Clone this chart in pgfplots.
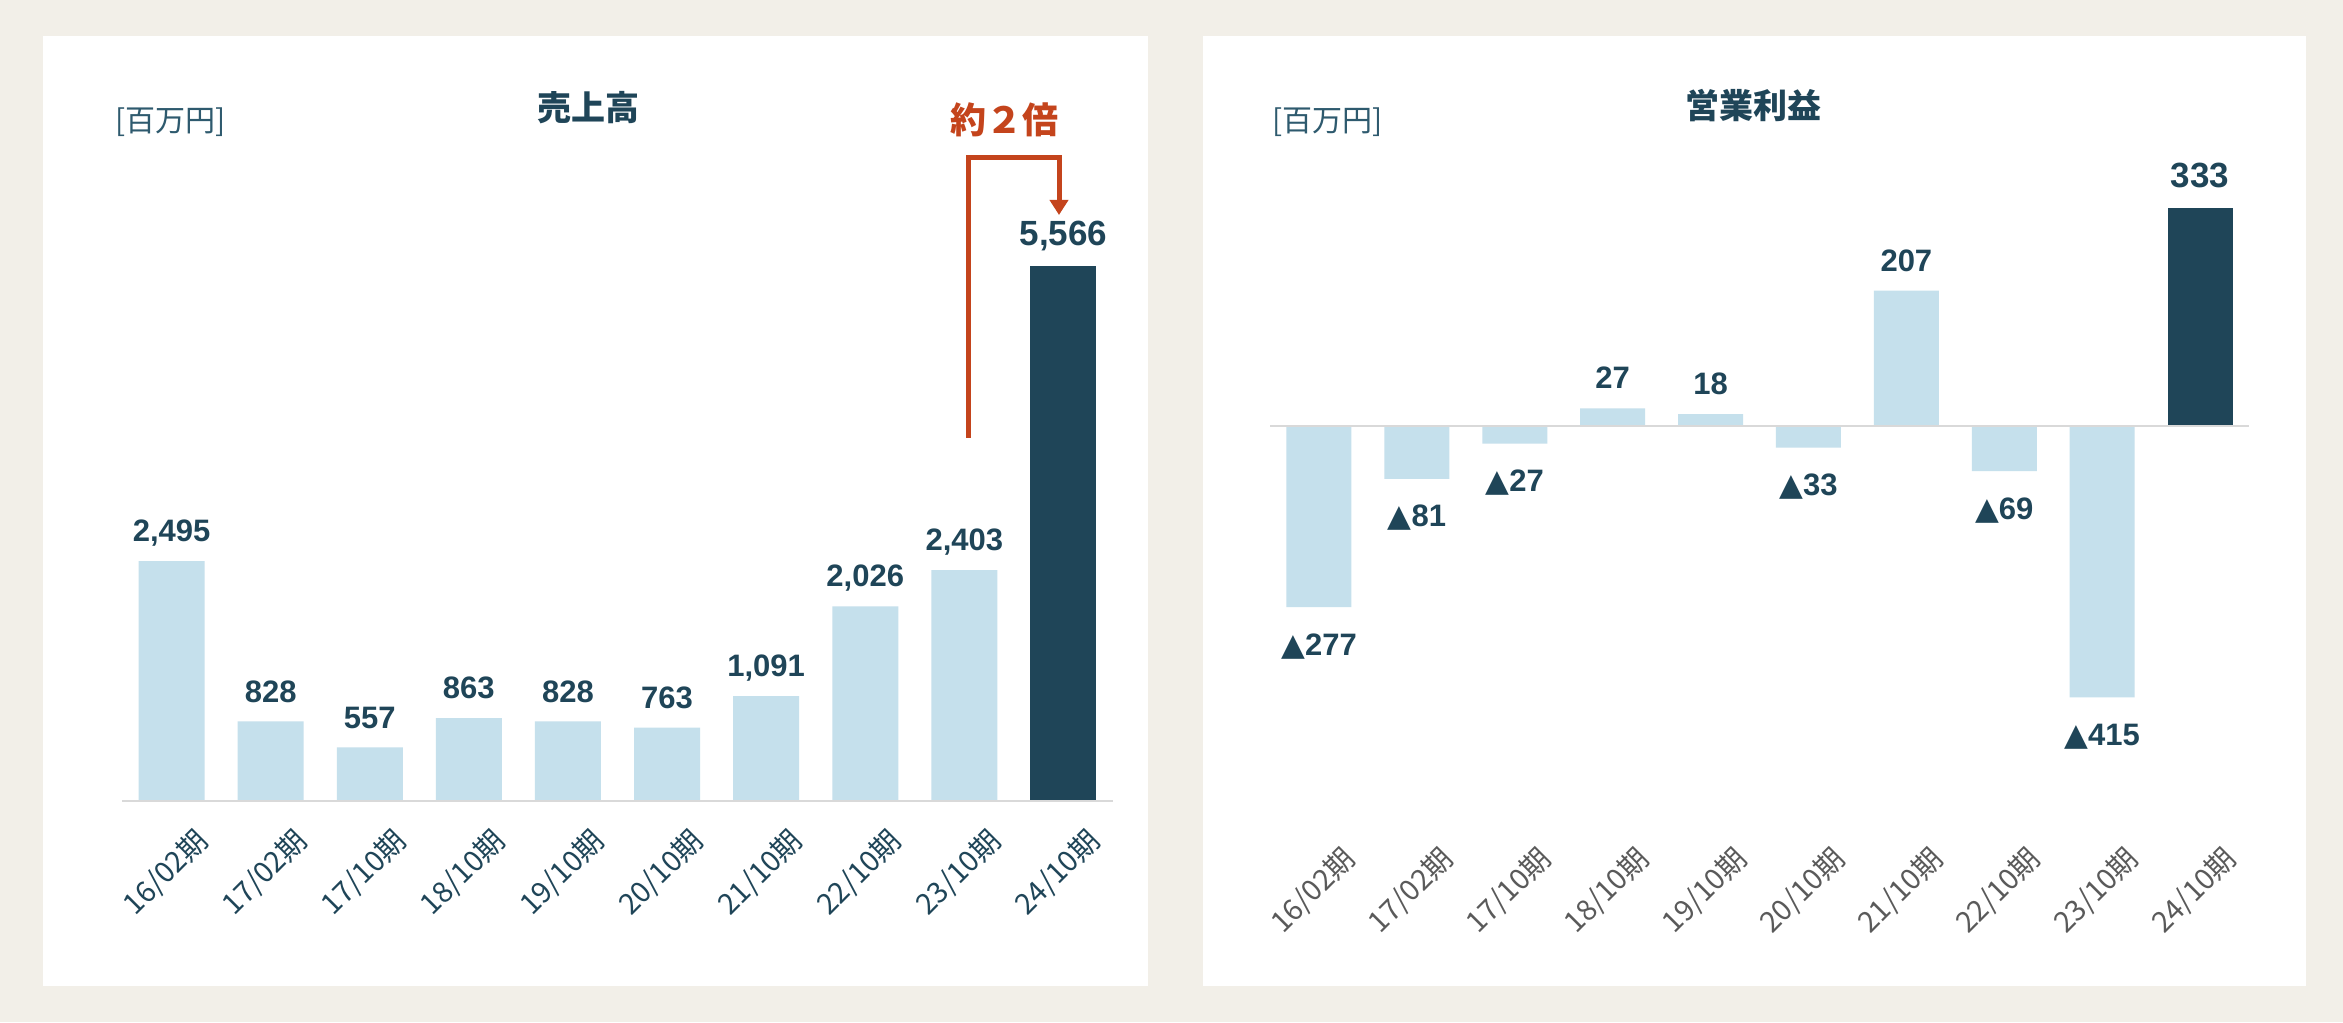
\documentclass[border=0pt]{standalone}
\usepackage{fontspec}
\usepackage{pgfplots}
\pgfplotsset{compat=1.18}
\usetikzlibrary{arrows.meta}
\setmainfont{Noto Sans CJK JP}
\newfontfamily\numfont{Liberation Sans}
\newfontfamily\dv{DejaVu Sans}
\definecolor{bg}{HTML}{F2EFE8}
\definecolor{navy}{HTML}{1F4558}
\definecolor{lightb}{HTML}{C5E0EC}
\definecolor{orng}{HTML}{C4441C}
\definecolor{tickgray}{HTML}{5A5A5A}
\definecolor{axgray}{HTML}{D9D9D9}
\definecolor{unitc}{HTML}{2E5A6E}
\begin{document}
\begin{tikzpicture}
\path[use as bounding box, fill=bg] (0,0) rectangle (1171.5pt,511pt);
\fill[white] (21.5pt,18pt) rectangle (574pt,493pt);
\fill[white] (601.5pt,18pt) rectangle (1153pt,493pt);
% ---------------- left: sales
\begin{axis}[at={(61pt,110.5pt)}, anchor=south west, scale only axis,
  width=495.5pt, height=288.35pt, xmin=-0.5, xmax=9.5, ymin=0, ymax=6000,
  ybar, axis line style={draw=none}, tick style={draw=none}, ytick=\empty,
  xtick={0,...,9},
  xticklabels={16/02期,17/02期,17/10期,18/10期,19/10期,20/10期,21/10期,22/10期,23/10期,24/10期},
  xticklabel style={rotate=45, anchor=north east, inner sep=0pt,
    font=\fontsize{14.5pt}{17pt}\selectfont, text=navy, xshift=2pt, yshift=-13pt},
  clip=false,
  /pgf/number format/1000 sep={,}, /pgf/number format/assume math mode=true]
\addplot[ybar, bar width=33pt, bar shift=0pt, fill=lightb, draw=none,
  nodes near coords,
  every node near coord/.append style={anchor=south, inner sep=0pt, text depth=0pt, yshift=9.5pt,
    font=\numfont\bfseries\fontsize{15.5pt}{18pt}\selectfont, text=navy}]
  coordinates {(0,2495) (1,828) (2,557) (3,863) (4,828) (5,763) (6,1091) (7,2026) (8,2403)};
\addplot[ybar, bar width=33pt, bar shift=0pt, fill=navy, draw=none,
  nodes near coords,
  every node near coord/.append style={anchor=south, inner sep=0pt, text depth=0pt, yshift=10pt,
    font=\numfont\bfseries\fontsize{17.5pt}{20pt}\selectfont, text=navy}]
  coordinates {(9,5566)};
\draw[axgray, line width=1pt] (axis cs:-0.5,0) -- (axis cs:9.5,0);
\end{axis}
% ---------------- right: operating profit
\begin{axis}[at={(635pt,101.5pt)}, anchor=south west, scale only axis,
  width=489.5pt, height=327.3pt, xmin=-0.5, xmax=9.5, ymin=-601, ymax=400,
  ybar, axis line style={draw=none}, tick style={draw=none}, ytick=\empty,
  xtick={0,...,9},
  xticklabels={16/02期,17/02期,17/10期,18/10期,19/10期,20/10期,21/10期,22/10期,23/10期,24/10期},
  xticklabel style={rotate=45, anchor=north east, inner sep=0pt,
    font=\fontsize{14.5pt}{17pt}\selectfont, text=tickgray, xshift=2pt, yshift=-13pt},
  clip=false,
  /pgf/number format/assume math mode=true]
\addplot[ybar, bar width=32.5pt, bar shift=0pt, fill=lightb, draw=none,
  nodes near coords,
  every node near coord/.append style={anchor=south, inner sep=0pt, text depth=0pt, yshift=9.5pt,
    font=\numfont\bfseries\fontsize{15.5pt}{18pt}\selectfont, text=navy}]
  coordinates {(3,27) (4,18) (6,207)};
\addplot[ybar, bar width=32.5pt, bar shift=0pt, fill=lightb, draw=none,
  point meta=explicit symbolic,
  nodes near coords={{\dv ▲}\pgfplotspointmeta},
  every node near coord/.append style={anchor=north, inner sep=0pt, yshift=-13pt,
    font=\numfont\bfseries\fontsize{15.5pt}{18pt}\selectfont, text=navy}]
  coordinates {(0,-277) [277] (1,-81) [81] (2,-27) [27] (5,-33) [33] (7,-69) [69] (8,-415) [415]};
\addplot[ybar, bar width=32.5pt, bar shift=0pt, fill=navy, draw=none,
  nodes near coords,
  every node near coord/.append style={anchor=south, inner sep=0pt, text depth=0pt, yshift=10pt,
    font=\numfont\bfseries\fontsize{17.5pt}{20pt}\selectfont, text=navy}]
  coordinates {(9,333)};
\draw[axgray, line width=1pt] (axis cs:-0.5,0) -- (axis cs:9.5,0);
\end{axis}
% ---------------- titles and annotations
\node[font=\bfseries\fontsize{17pt}{20pt}\selectfont, text=navy] at (294pt,457pt) {売上高};
\node[font=\bfseries\fontsize{17pt}{20pt}\selectfont, text=navy] at (876.5pt,458pt) {営業利益};
\node[anchor=west, inner sep=0pt, font=\fontsize{15pt}{18pt}\selectfont, text=unitc] at (57.5pt,450pt) {[百万円]};
\node[anchor=west, inner sep=0pt, font=\fontsize{15pt}{18pt}\selectfont, text=unitc] at (636pt,450pt) {[百万円]};
\node[font=\bfseries\fontsize{18pt}{21pt}\selectfont, text=orng] at (502pt,451pt) {約２倍};
\draw[orng, line width=2.5pt, -{Triangle[width=9pt,length=7.5pt]}]
  (484pt,292pt) -- (484pt,432pt) -- (529.5pt,432pt) -- (529.5pt,403.5pt);
\end{tikzpicture}
\end{document}
